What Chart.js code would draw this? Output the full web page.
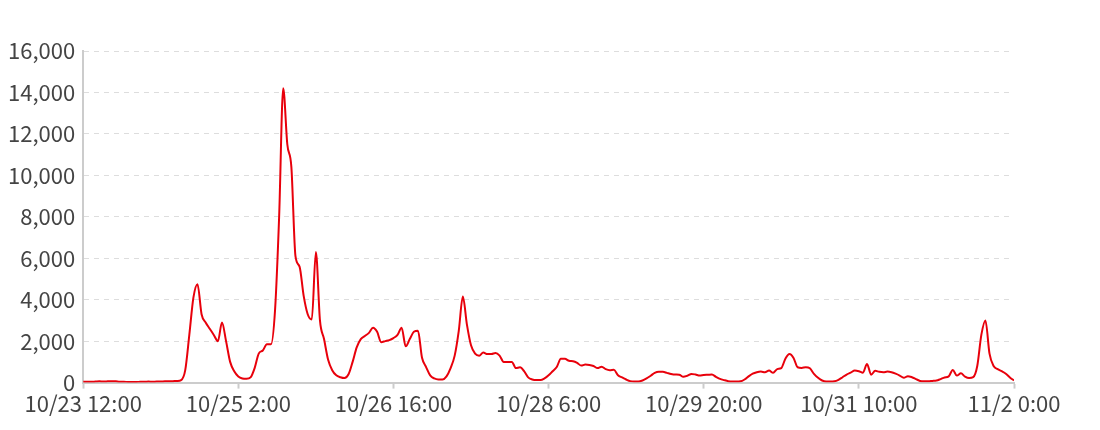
<!DOCTYPE html>
<html>
<head>
<meta charset="utf-8">
<script src="https://cdn.jsdelivr.net/npm/chart.js@4.4.1/dist/chart.umd.min.js"></script>
<style>
  html, body { margin: 0; padding: 0; background: #fff; }
  #wrap { width: 1100px; height: 430px; }
</style>
</head>
<body>
<div id="wrap"><canvas id="c" width="1100" height="430"></canvas></div>
<script>
// hourly series starting 10/23 12:00, ending 11/2 0:00 (229 points)
const values = [
  40,40,40,50,60,50,60,70,60,40,40,30,30,30,40,40,50,40,50,50,60,60,70,80,
  120,600,2300,4100,4750,3300,2900,2600,2300,2000,2900,2000,1000,550,300,200,
  180,250,700,1400,1550,1850,1850,3500,8000,14200,11500,10400,6100,5600,4200,3300,
  3050,6300,3000,2100,1100,600,350,260,220,400,1000,1700,2100,2250,2400,2650,
  2450,1950,2000,2050,2150,2300,2650,1750,2100,2450,2500,1200,750,350,200,150,
  150,300,700,1300,2500,4150,2800,1800,1400,1300,1450,1380,1380,1430,1300,1000,
  1000,1000,700,740,550,250,150,120,120,200,350,550,750,1150,1150,1050,
  1030,950,820,870,850,800,700,770,650,600,620,350,250,150,70,50,
  50,100,200,330,470,520,520,470,420,390,380,280,330,420,390,340,
  370,380,390,280,180,120,70,50,50,60,150,300,430,500,530,500,
  580,470,650,700,1150,1380,1190,740,710,740,690,420,230,100,50,50,
  60,130,260,390,480,580,550,480,900,380,570,520,500,530,500,430,
  340,230,310,260,170,80,60,60,80,100,170,250,300,610,340,450,
  290,220,260,800,2300,3000,1400,800,650,550,430,250,100
];
const tickLabels = ['10/23 12:00','10/25 2:00','10/26 16:00','10/28 6:00','10/29 20:00','10/31 10:00','11/2 0:00'];
const tickStepHours = 38;
const yTicks = [0,2000,4000,6000,8000,10000,12000,14000,16000];

const points = values.map((v, i) => ({ x: i, y: v }));
const FONT = '"Noto Sans CJK SC", "Source Sans Pro", "Noto Sans", sans-serif';

new Chart(document.getElementById('c'), {
  type: 'line',
  data: {
    datasets: [{
      data: points,
      borderColor: '#e8000b',
      borderWidth: 2,
      pointRadius: 0,
      fill: false,
      cubicInterpolationMode: 'monotone'
    }]
  },
  options: {
    responsive: false,
    animation: false,
    layout: { padding: { left: 0, right: 86, top: 51, bottom: 11 } },
    plugins: { legend: { display: false }, tooltip: { enabled: false } },
    scales: {
      x: {
        type: 'linear',
        min: 0,
        max: values.length - 1,
        afterBuildTicks: (axis) => {
          axis.ticks = tickLabels.map((_, k) => ({ value: k * tickStepHours }));
        },
        ticks: {
          autoSkip: false,
          maxRotation: 0,
          padding: 2,
          color: '#444',
          font: { family: FONT, size: 22 },
          callback: (v) => tickLabels[Math.round(v / tickStepHours)]
        },
        grid: { drawOnChartArea: false, drawTicks: true, tickLength: 6, color: '#ccc', tickWidth: 2 },
        border: { display: true, color: '#ccc', width: 2 }
      },
      y: {
        min: 0,
        max: 16000,
        afterBuildTicks: (axis) => { axis.ticks = yTicks.map(v => ({ value: v })); },
        ticks: {
          padding: 8,
          color: '#444',
          font: { family: FONT, size: 22 },
          callback: (v) => v.toLocaleString('en-US')
        },
        grid: { color: '#ddd', drawTicks: false, lineWidth: 1 },
        border: { display: true, color: '#ccc', width: 2, dash: [5, 5] }
      }
    }
  }
});
</script>
</body>
</html>
